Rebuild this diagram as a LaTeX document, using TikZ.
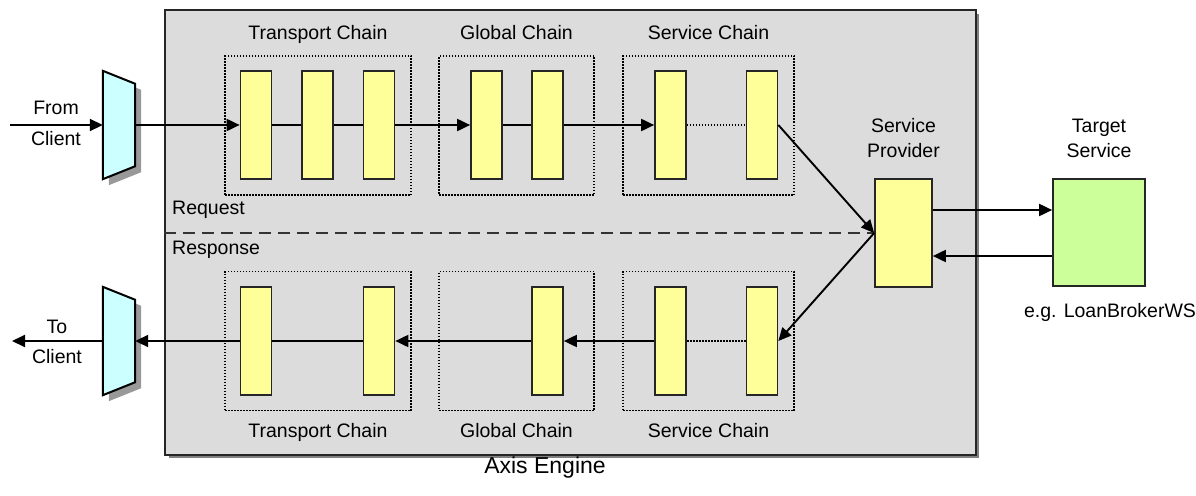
\documentclass[tikz,border=0pt]{standalone}
\usepackage{fontspec}
\setmainfont{Liberation Sans}
\usetikzlibrary{arrows.meta,positioning,calc}
\definecolor{engineGray}{RGB}{220,220,220}
\definecolor{handlerYellow}{RGB}{255,255,153}
\definecolor{portCyan}{RGB}{204,255,255}
\definecolor{targetGreen}{RGB}{204,255,153}
\newcommand{\drawport}[1]{%
  \fill[black!40] ($(#1.north west)+(6,6)$) -- ($(#1.north east)+(6,19)$)
    -- ($(#1.south east)+(6,-7)$) -- ($(#1.south west)+(6,6)$) -- cycle;
  \draw[line width=2pt, fill=portCyan] (#1.north west) -- ($(#1.north east)+(0,13)$)
    -- ($(#1.south east)+(0,-13)$) -- (#1.south west) -- cycle;}

\begin{document}
\begin{tikzpicture}[x=1pt, y=-1pt,
  every node/.style={font=\fontsize{19.5}{22}\selectfont},
  handler/.style={draw=black!85, line width=1.7pt, fill=handlerYellow,
                  minimum width=31pt, minimum height=108pt, inner sep=0pt},
  chain/.style={draw, line width=1.5pt, dash pattern=on 1.5pt off 1.5pt,
                minimum height=139pt, inner sep=0pt},
  port/.style={minimum width=32pt, minimum height=108pt, inner sep=0pt},
  lbl/.style={inner sep=0pt, text height=14pt, text depth=4pt},
  twolines/.style={inner sep=0pt, align=center, font=\fontsize{19.5}{25}\selectfont},
  flow/.style={line width=1.9pt, -{Triangle[length=13pt,width=12pt]}},
  link/.style={line width=1.9pt},
  hop/.style={line width=1.5pt, dash pattern=on 1.5pt off 1.5pt},
]
\useasboundingbox (0,0) rectangle (1196,495);

% Engine
\fill[black!50] (169,14) rectangle (979,458);
\node[draw=black!85, line width=1.8pt, fill=engineGray, minimum width=811pt,
      minimum height=445pt, inner sep=0pt] (engine) at (570.5,232.5) {};
\node[font=\fontsize{23}{26}\selectfont] (enginelbl) at (545,468) {Axis Engine};
\node[anchor=west, inner sep=0pt] (reqlbl) at (172,210) {Request};
\node[anchor=west, inner sep=0pt] (reslbl) at (172,250) {Response};

% Request chains
\node[chain, minimum width=186pt] (rtc) at (318,125.5) {};
\node[chain, minimum width=155pt] (rgc) at (516.5,125.5) {};
\node[chain, minimum width=171pt] (rsc) at (708.5,125.5) {};
\node[lbl, above=12pt of rtc] (rtclbl) {Transport Chain};
\node[lbl, above=12pt of rgc] (rgclbl) {Global Chain};
\node[lbl, above=12pt of rsc] (rsclbl) {Service Chain};

\node[handler] (rt1) at (256,125) {};
\node[handler] (rt2) at (317.5,125) {};
\node[handler] (rt3) at (379,125) {};
\node[handler] (rg1) at (486.5,125) {};
\node[handler] (rg2) at (547.5,125) {};
\node[handler] (rs1) at (670.5,125) {};
\node[handler] (rs2) at (762,125) {};

% Response chains
\node[chain, minimum width=186pt] (ptc) at (318,341) {};
\node[chain, minimum width=155pt] (pgc) at (516.5,341) {};
\node[chain, minimum width=171pt] (psc) at (708.5,341) {};
\node[lbl, below=12pt of ptc] (ptclbl) {Transport Chain};
\node[lbl, below=12pt of pgc] (pgclbl) {Global Chain};
\node[lbl, below=12pt of psc] (psclbl) {Service Chain};

\node[handler] (pt1) at (256,341) {};
\node[handler] (pt2) at (379,341) {};
\node[handler] (pg1) at (547.5,341) {};
\node[handler] (ps1) at (670.5,341) {};
\node[handler] (ps2) at (762,341) {};

% Provider and target
\node[handler, minimum width=57pt] (provider) at (903.5,233) {};
\node[twolines, above=20pt of provider] (providerlbl) {Service\\Provider};
\node[draw=black!85, line width=1.7pt, fill=targetGreen, minimum width=92pt,
      minimum height=107pt, inner sep=0pt] (target) at (1099,232.5) {};
\node[twolines, above=20pt of target] (targetlbl) {Target\\Service};
\node (targetnote) at (1110,312) {e.g. LoanBrokerWS};

% Ports
\node[port] (inport) at (119,125) {};
\node[port] (outport) at (119,341) {};
\drawport{inport}
\drawport{outport}
\node[twolines, font=\fontsize{19.5}{31}\selectfont] (fromlbl) at (56,123) {From\\Client};
\node[twolines, font=\fontsize{19.5}{30}\selectfont] (tolbl) at (57,342) {To\\Client};
\coordinate (clientin) at (10,125);
\coordinate (clientout) at (12,341);

% Separator
\draw[line width=2pt, black!80, dash pattern=on 12pt off 7pt]
  (engine.west |- provider.west) -- (provider.west);

% Request flow
\draw[flow] (clientin) -- (inport.west);
\draw[flow] (inport.east) -- (rt1.west);
\draw[link] (rt1.east) -- (rt2.west);
\draw[link] (rt2.east) -- (rt3.west);
\draw[flow] (rt3.east) -- (rg1.west);
\draw[link] (rg1.east) -- (rg2.west);
\draw[flow] (rg2.east) -- (rs1.west);
\draw[hop] (rs1.east) -- (rs2.west);
\draw[flow] (rs2.east) -- (provider.west);

% Response flow
\draw[flow] (provider.west) -- (ps2.east);
\draw[hop] (ps2.west) -- (ps1.east);
\draw[flow] (ps1.west) -- (pg1.east);
\draw[flow] (pg1.west) -- (pt2.east);
\draw[link] (pt2.west) -- (pt1.east);
\draw[flow] (pt1.west) -- (outport.east);
\draw[flow] (outport.west) -- (clientout);

% Target calls
\draw[flow] ([yshift=23pt]provider.east) -- ([yshift=23pt]provider.east -| target.west);
\draw[flow] ([yshift=-23pt]provider.east -| target.west) -- ([yshift=-23pt]provider.east);

\end{tikzpicture}
\end{document}
